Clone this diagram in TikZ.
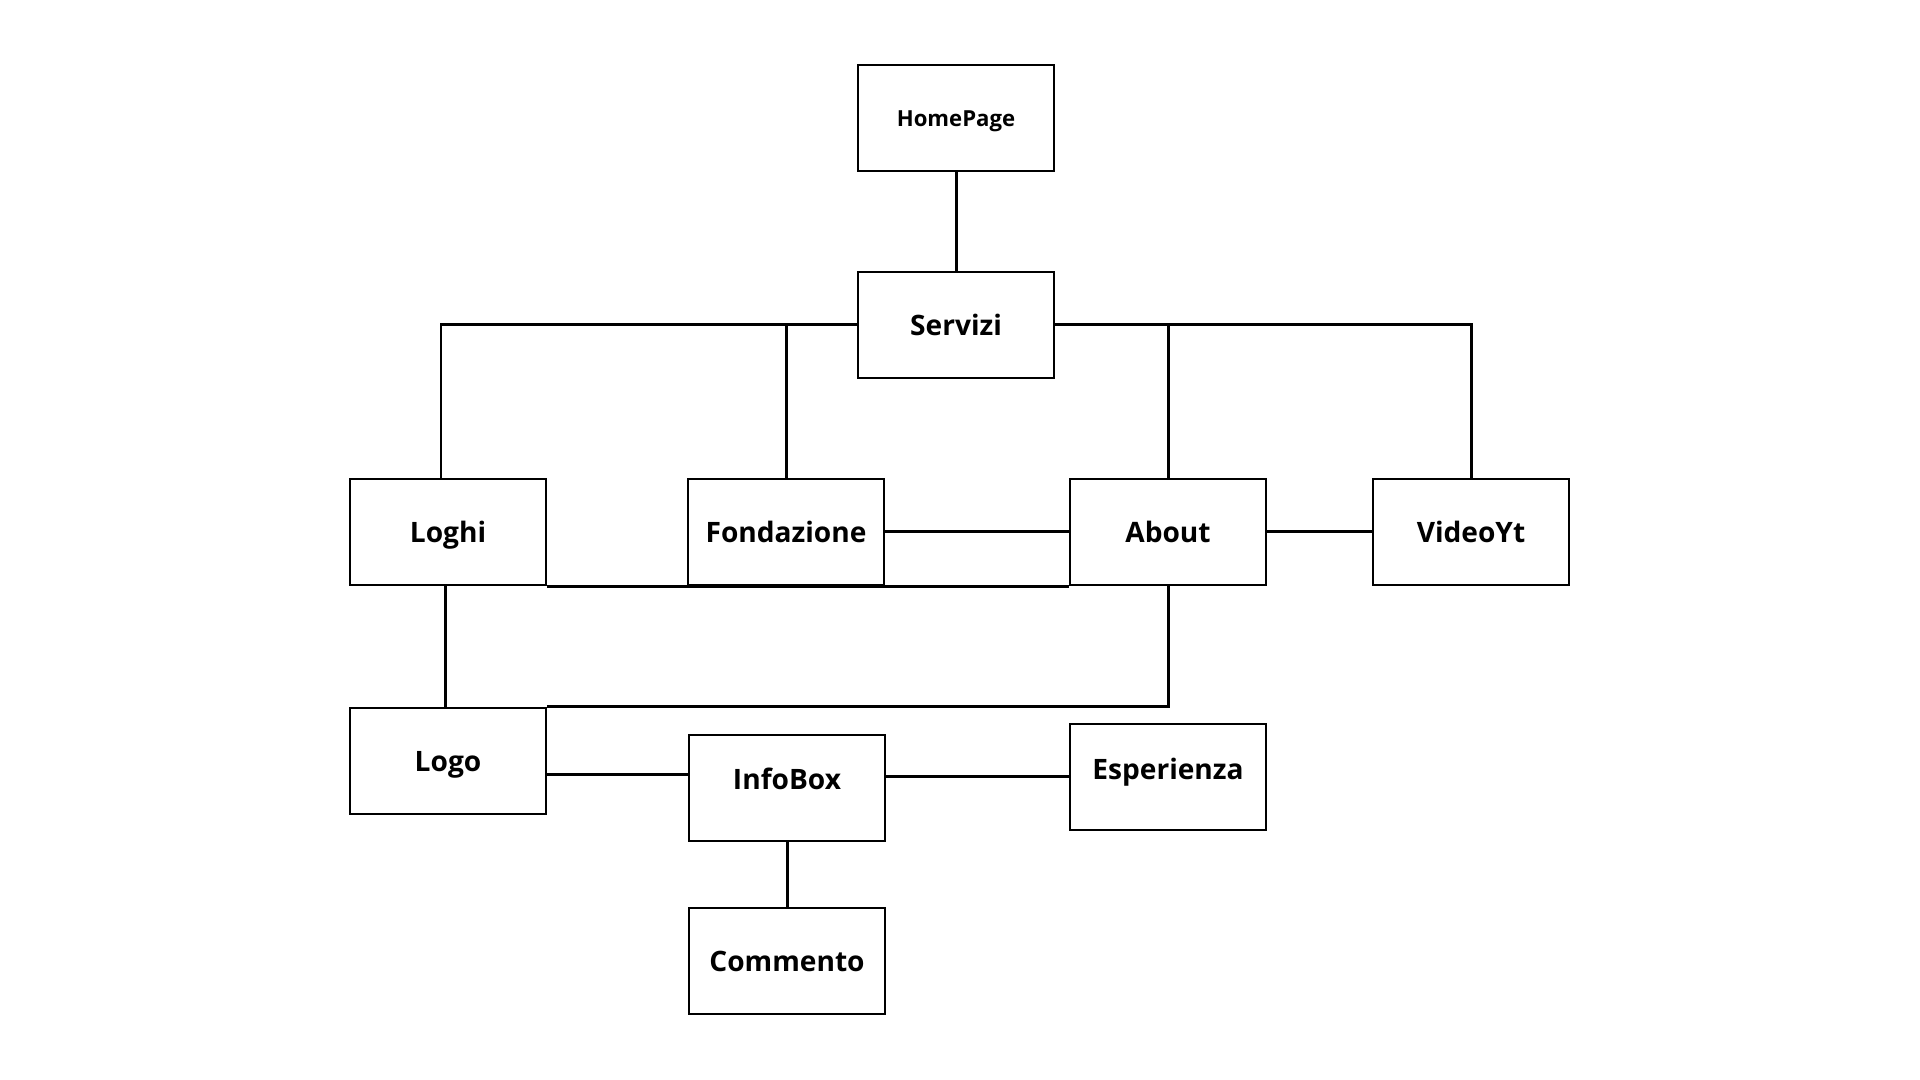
\documentclass[tikz,border=0pt]{standalone}
\usepackage{fontspec}
\setmainfont{Open Sans}
\usetikzlibrary{calc}

\begin{document}
\begin{tikzpicture}[scale = 1]
		\tikzstyle{every node}=[font=\fontsize{8}{10}\selectfont\bfseries]
		\tikzstyle{page}=[draw, line width=0.5pt, minimum width=1.96cm, minimum height=1.065cm, inner sep=0pt, text height=5.8pt, text depth=0pt]
		\tikzstyle{link}=[line width=0.85pt]
		\useasboundingbox (0,0) rectangle (19.2,10.8);
		% pagine
		\node [page, font=\fontsize{6.3}{8}\selectfont\bfseries, text height=4.6pt] (homepage) at (9.56,9.62) {HomePage};
		\node [page] (servizi) at (9.56,7.55) {Servizi};
		\node [page] (loghi) at (4.48,5.48) {Loghi};
		\node [page] (fondazione) at (7.86,5.48) {Fondazione};
		\node [page] (about) at (11.68,5.48) {About};
		\node [page] (videoyt) at (14.71,5.48) {VideoYt};
		\node [page] (logo) at (4.48,3.19) {Logo};
		\node [page, text depth=4.8pt] (infobox) at (7.87,2.92) {InfoBox};
		\node [page, text depth=4.2pt] (esperienza) at (11.68,3.03) {Esperienza};
		\node [page] (commento) at (7.87,1.19) {Commento};
		% collegamenti
		\draw [link] (homepage) -- (servizi);
		\draw [link] (servizi.west) -| ([xshift=-0.07cm]loghi.north);
		\draw [link] (fondazione.north) -- (fondazione.north |- servizi.west);
		\draw [link] (servizi.east) -| (videoyt.north);
		\draw [link] (about.north) -- (about.north |- servizi.east);
		\draw [link] (fondazione.east) -- (about.west);
		\draw [link] (loghi.south east) -- (about.south west);
		\draw [link] (about.east) -- (videoyt.west);
		\draw [link] ([xshift=-0.03cm]loghi.south) -- ([xshift=-0.03cm]logo.north);
		\draw [link] (about.south) |- (logo.north east);
		\draw [link] ([yshift=-0.14cm]logo.east) -- ([yshift=0.13cm]infobox.west);
		\draw [link] (esperienza.west) -- (infobox.east |- esperienza.west);
		\draw [link] (infobox.south) -- (commento.north);
	\end{tikzpicture}
\end{document}
